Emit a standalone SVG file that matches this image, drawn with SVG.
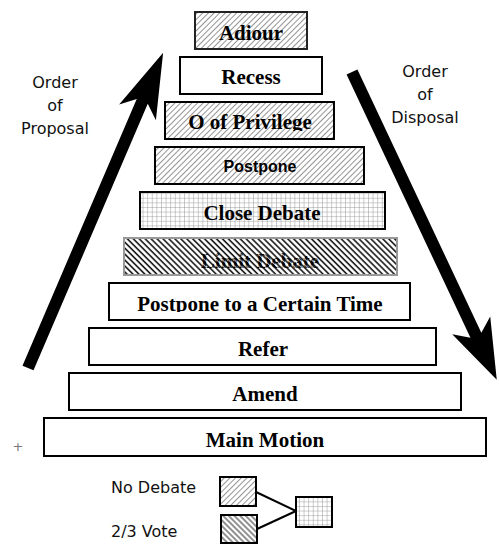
<svg xmlns="http://www.w3.org/2000/svg" width="499" height="544" viewBox="0 0 499 544">
<style>
.box{stroke:#000;stroke-width:2;fill:#fff}
.lbl{font-family:"Liberation Serif","Times New Roman",serif;font-weight:bold;font-size:21px;fill:#000;text-anchor:middle}
.sans{font-family:"DejaVu Sans","Verdana",sans-serif;font-size:16px;fill:#111}
.side{text-anchor:middle}
.conn{stroke:#000;stroke-width:2;fill:none}
</style>
<defs>
<pattern id="hatchF" patternUnits="userSpaceOnUse" width="4" height="4" patternTransform="rotate(45)">
<rect width="4" height="4" fill="#fff"/>
<line x1="0" y1="0" x2="0" y2="4" stroke="#5a5a5a" stroke-width="1.3"/>
</pattern>
<pattern id="hatchB" patternUnits="userSpaceOnUse" width="4.2" height="4.2" patternTransform="rotate(-45)">
<rect width="4.2" height="4.2" fill="#fff"/>
<line x1="1" y1="0" x2="1" y2="4.2" stroke="#111" stroke-width="1.6"/>
</pattern>
<pattern id="hatchL" patternUnits="userSpaceOnUse" width="4" height="4" patternTransform="rotate(-45)">
<rect width="4" height="4" fill="#fff"/>
<line x1="1" y1="0" x2="1" y2="4" stroke="#555" stroke-width="1.3"/>
</pattern>
<pattern id="hatchBw" patternUnits="userSpaceOnUse" width="4.2" height="4.2" patternTransform="rotate(-45)">
<line x1="3.1" y1="0" x2="3.1" y2="4.2" stroke="#fff" stroke-width="0.8"/>
</pattern>
<pattern id="grid" patternUnits="userSpaceOnUse" width="4.6" height="4.6">
<rect width="4.6" height="4.6" fill="#fff"/>
<path d="M0,0H4.6M0,0V4.6" stroke="#999" stroke-width="1"/>
</pattern>
<clipPath id="clipPT"><rect x="109" y="283" width="301" height="29"/></clipPath>
<clipPath id="clipOP"><rect x="165" y="102" width="169" height="29"/></clipPath>
</defs>
<rect width="499" height="544" fill="#fff"/>

<g id="arrows">
<polygon fill="#000" points="0,-6 290,-6 278,-20 343,0 278,20 290,6 0,6" transform="translate(28,368) rotate(-66.8)"/>
<polygon fill="#000" points="0,-6 291,-6 280,-21 340,0 280,21 291,6 0,6" transform="translate(352,72) rotate(64.8)"/>
</g>

<g id="label-proposal">
<text class="sans side" x="55" y="88">Order</text>
<text class="sans side" x="55" y="111">of</text>
<text class="sans side" x="55" y="134">Proposal</text>
</g>
<g id="label-disposal">
<text class="sans side" x="425" y="77">Order</text>
<text class="sans side" x="425" y="100">of</text>
<text class="sans side" x="425" y="123">Disposal</text>
</g>

<g id="adiour">
<rect x="195" y="12" width="112" height="37" fill="url(#hatchF)" stroke="#222" stroke-width="2"/>
<text class="lbl" x="251" y="40">Adiour</text>
</g>
<g id="recess">
<rect class="box" x="180" y="57" width="142" height="37"/>
<text class="lbl" x="251" y="84">Recess</text>
</g>
<g id="privilege">
<rect x="165" y="102" width="169" height="37" fill="url(#hatchF)" stroke="#000" stroke-width="2"/>
<text class="lbl" x="250" y="129" clip-path="url(#clipOP)">O of Privilege</text>
</g>
<g id="postpone">
<rect x="155" y="147" width="209" height="37" fill="url(#hatchF)" stroke="#000" stroke-width="2"/>
<text x="260" y="172" font-family="Liberation Sans, Arial, sans-serif" font-weight="bold" font-size="16" text-anchor="middle" fill="#000">Postpone</text>
</g>
<g id="close-debate">
<rect x="140" y="192" width="245" height="37" fill="url(#grid)" stroke="#000" stroke-width="2"/>
<text class="lbl" x="262" y="220">Close Debate</text>
</g>
<g id="limit-debate">
<rect x="124" y="238" width="273" height="37" fill="url(#hatchB)" stroke="#999" stroke-width="2"/>
<text class="lbl" x="260" y="268">Limit Debate</text>
<rect x="125" y="239" width="271" height="35" fill="url(#hatchBw)"/>
</g>
<g id="postpone-certain">
<rect class="box" x="109" y="283" width="301" height="37"/>
<text class="lbl" x="260" y="311" clip-path="url(#clipPT)">Postpone to a Certain Time</text>
</g>
<g id="refer">
<rect class="box" x="89" y="328" width="347" height="37"/>
<text class="lbl" x="263" y="356">Refer</text>
</g>
<g id="amend">
<rect class="box" x="69" y="373" width="392" height="37"/>
<text class="lbl" x="265" y="401">Amend</text>
</g>
<g id="main-motion">
<rect class="box" x="44" y="418" width="442" height="38"/>
<text class="lbl" x="265" y="447">Main Motion</text>
</g>

<text x="18" y="451" font-family="DejaVu Sans, sans-serif" font-size="13" fill="#777" text-anchor="middle">+</text>

<g id="connectors">
<line class="conn" x1="256" y1="492" x2="296" y2="511"/>
<line class="conn" x1="257" y1="529" x2="296" y2="511"/>
</g>
<g id="legend-no-debate">
<text class="sans" x="111" y="493">No Debate</text>
<rect x="220" y="477" width="36" height="29" fill="url(#hatchF)" stroke="#000" stroke-width="2"/>
</g>
<g id="legend-two-thirds">
<text class="sans" x="111" y="537">2/3 Vote</text>
<rect x="221" y="515" width="36" height="28" fill="url(#hatchL)" stroke="#000" stroke-width="2"/>
</g>
<g id="legend-both">
<rect x="296" y="497" width="36" height="30" fill="url(#grid)" stroke="#000" stroke-width="2"/>
</g>
</svg>
